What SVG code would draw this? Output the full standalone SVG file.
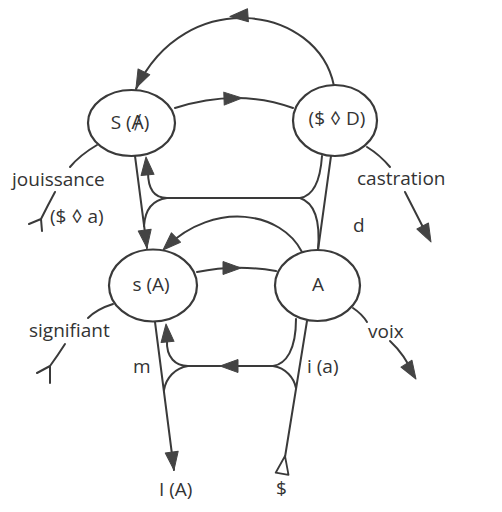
<svg xmlns="http://www.w3.org/2000/svg" xmlns:xlink="http://www.w3.org/1999/xlink" width="502" height="512" viewBox="0 0 502 512">
<defs>
<style>
.ln{fill:none;stroke:#3a3a3a;stroke-width:2;stroke-linecap:round}
.nd{fill:#fff;stroke:#3a3a3a;stroke-width:2.2}
.ah{fill:#444;stroke:#444;stroke-width:1;stroke-linejoin:round}
.ho{fill:#fff;stroke:#3a3a3a;stroke-width:1.8;stroke-linejoin:round}
text{font-family:"Open Sans","Noto Sans","DejaVu Sans",sans-serif;font-size:19px;fill:#333}
.c{text-anchor:middle}
</style>
<path id="ah" d="M0,0 L-18,-6.5 L-18,6.5 Z"/>
</defs>
<rect width="502" height="512" fill="#fff"/>
<g id="connectors">
<path class="ln" d="M334 86 C318 5 185 -15 136 89"/>
<path class="ln" d="M175 108 Q238 88 293 108"/>
<path class="ln" d="M135 156 L147 248"/>
<path class="ln" d="M167 198 L300 198"/>
<path class="ln" d="M167 198 C155 198 148 190 148 172"/>
<path class="ln" d="M167 198 C152 200 145 210 144 226"/>
<path class="ln" d="M300 198 C312 196 320 185 322 156"/>
<path class="ln" d="M300 198 C312 202 321 215 318 250"/>
<path class="ln" d="M331 156 L318 250"/>
<path class="ln" d="M302 252 C282 212 215 200 166 247"/>
<path class="ln" d="M197 272 Q236 264 276 271"/>
<path class="ln" d="M155 322 L174 470"/>
<path class="ln" d="M188 366 L273 366"/>
<path class="ln" d="M188 366 C176 366 166 358 167 340"/>
<path class="ln" d="M188 366 C175 368 166 378 164 390"/>
<path class="ln" d="M273 366 C286 364 296 350 296 319"/>
<path class="ln" d="M273 366 C286 368 294 378 296 388"/>
<path class="ln" d="M307 321 L285 457"/>
<path class="ln" d="M97 145 Q80 155 70 167"/>
<path class="ln" d="M55 192 Q48 205 41 219 M41 219 L29 224 M41 219 L42 231"/>
<path class="ln" d="M113 304 Q97 309 88 318"/>
<path class="ln" d="M65 344 Q58 355 50 366 M50 366 L37 373 M50 366 L50 383"/>
<path class="ln" d="M367 147 Q380 155 390 167"/>
<path class="ln" d="M405 192 L428 237"/>
<path class="ln" d="M353 308 Q362 314 367 322"/>
<path class="ln" d="M390 341 Q405 355 413 374"/>
<use href="#ah" class="ah" transform="translate(230,16.5) rotate(176)"/>
<use href="#ah" class="ah" transform="translate(136,88) rotate(116)"/>
<use href="#ah" class="ah" transform="translate(242,98) rotate(-2)"/>
<use href="#ah" class="ah" transform="translate(147,248) rotate(82.6)"/>
<use href="#ah" class="ah" transform="translate(146,157) rotate(-95)"/>
<use href="#ah" class="ah" transform="translate(163,250) rotate(136)"/>
<use href="#ah" class="ah" transform="translate(241,268) rotate(0)"/>
<use href="#ah" class="ah" transform="translate(166,324) rotate(-95)"/>
<use href="#ah" class="ah" transform="translate(220,366) rotate(180)"/>
<use href="#ah" class="ah" transform="translate(174,470) rotate(82.7)"/>
<use href="#ah" class="ah" transform="translate(431,242) rotate(62.5)"/>
<use href="#ah" class="ah" transform="translate(416,379) rotate(58)"/>
<use href="#ah" class="ho" transform="translate(285,456) rotate(-80.7)"/>
</g>
<g id="node-S-barredA">
<ellipse class="nd" cx="131.5" cy="123" rx="43.5" ry="33"/>
<text class="c" x="130" y="129">S (Ⱥ)</text>
</g>
<g id="node-SD">
<ellipse class="nd" cx="335" cy="120.5" rx="42" ry="35.5"/>
<text class="c" x="337" y="125">($ ◊ D)</text>
</g>
<g id="node-sA">
<ellipse class="nd" cx="153" cy="285.5" rx="44" ry="36"/>
<text class="c" x="151" y="291">s (A)</text>
</g>
<g id="node-A">
<ellipse class="nd" cx="317.5" cy="285.5" rx="42.5" ry="35.5"/>
<text class="c" x="318" y="291">A</text>
</g>
<g id="labels">
<text x="12" y="186">jouissance</text>
<text x="50" y="223">($ ◊ a)</text>
<text x="357" y="185">castration</text>
<text x="353" y="232">d</text>
<text x="29" y="337">signifiant</text>
<text x="133" y="373">m</text>
<text x="368" y="338">voix</text>
<text x="307" y="373">i (a)</text>
<text x="159" y="496">I (A)</text>
<text x="276" y="495">$</text>
</g>
</svg>
